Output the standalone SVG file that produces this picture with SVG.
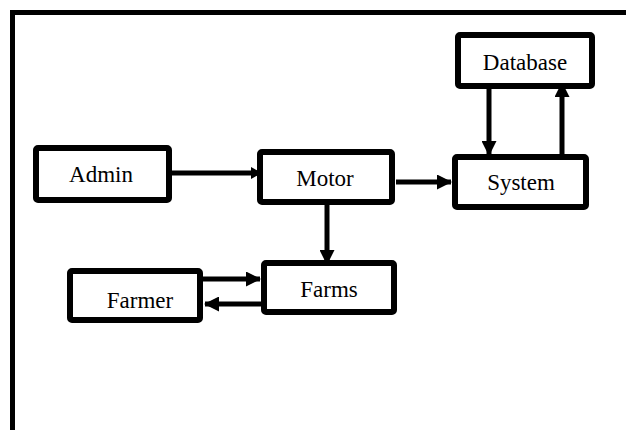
<svg xmlns="http://www.w3.org/2000/svg" width="626" height="430" viewBox="0 0 626 430">
<defs>
<style>
.box{fill:#fff;stroke:#000;stroke-width:6}
.lbl{font-family:"Liberation Serif","Times New Roman",serif;font-size:23px;fill:#000;text-anchor:middle}
.c{stroke:#000;stroke-width:5;fill:none}
</style>
<marker id="ah" markerUnits="userSpaceOnUse" markerWidth="15" markerHeight="15" refX="14" refY="7.5" orient="auto">
<path d="M0,0 L15,7.5 L0,15 z" fill="#000"/>
</marker>
<marker id="ahs" markerUnits="userSpaceOnUse" markerWidth="11" markerHeight="12" refX="10" refY="6" orient="auto">
<path d="M0,0 L11,6 L0,12 z" fill="#000"/>
</marker>
</defs>
<rect width="626" height="430" fill="#fff"/>
<path d="M12.5,432 V12.5 H630" fill="none" stroke="#000" stroke-width="5"/>
<g id="connectors">
<line class="c" x1="172" y1="173" x2="261" y2="173" stroke-width="4" marker-end="url(#ahs)"/>
<line class="c" x1="396" y1="182" x2="451" y2="182" stroke-width="6" marker-end="url(#ah)"/>
<line class="c" x1="327" y1="205" x2="327" y2="264" stroke-width="5" marker-end="url(#ah)"/>
<line class="c" x1="489" y1="89" x2="489" y2="155" stroke-width="5" marker-end="url(#ah)"/>
<line class="c" x1="562" y1="154" x2="562" y2="83" stroke-width="5" marker-end="url(#ah)"/>
<line class="c" x1="203" y1="279" x2="260" y2="279" stroke-width="6" marker-end="url(#ah)"/>
<line class="c" x1="261" y1="304" x2="205" y2="304" stroke-width="6" marker-end="url(#ah)"/>
</g>
<g id="database"><rect class="box" x="458" y="35" width="134" height="51" rx="2"/><text class="lbl" x="525" y="70">Database</text></g>
<g id="admin"><rect class="box" x="36" y="148" width="133" height="52" rx="2"/><text class="lbl" x="101" y="182">Admin</text></g>
<g id="motor"><rect class="box" x="260" y="152" width="132" height="50" rx="2"/><text class="lbl" x="325" y="186">Motor</text></g>
<g id="system"><rect class="box" x="455" y="157" width="131" height="50" rx="2"/><text class="lbl" x="521" y="190">System</text></g>
<g id="farms"><rect class="box" x="264" y="263" width="130" height="49" rx="2"/><text class="lbl" x="329" y="297">Farms</text></g>
<g id="farmer"><rect class="box" x="70" y="271" width="130" height="49" rx="2"/><text class="lbl" x="140" y="308">Farmer</text></g>
</svg>
